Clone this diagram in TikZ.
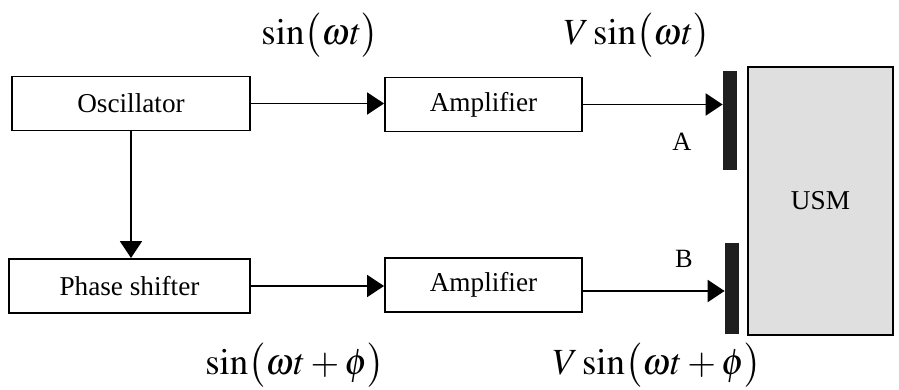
\documentclass[tikz,border=0pt]{standalone}
\usepackage{mathptmx}
\usepackage[no-math]{fontspec}
\setmainfont{Liberation Serif}
\usetikzlibrary{arrows.meta}
\definecolor{usmgray}{HTML}{DFDFDF}

\tikzset{
  block/.style={draw, line width=1.1pt, minimum width=#1, minimum height=1.08cm,
    inner sep=0pt, font=\fontsize{15.5}{17}\selectfont},
  electrode/.style={fill=black!88, draw=none, minimum width=0.28cm, inner sep=0pt},
  sig/.style={font=\fontsize{21}{24}\selectfont, inner sep=0pt},
  port/.style={font=\fontsize{15}{17}\selectfont, inner sep=0pt},
  feed/.style={line width=1.1pt, -{Triangle[length=0.34cm,width=0.44cm]}}
}

\begin{document}
\begin{tikzpicture}[x=0.02cm,y=0.02cm]
  \useasboundingbox (0,0) rectangle (899,389);
  % blocks
  \node[block=4.76cm] (osc) at (131,285.5) {Oscillator};
  \node[block=4.82cm] (shift) at (129.5,103) {Phase shifter};
  \node[block=3.94cm] (ampA) at (483.5,284.5) {Amplifier};
  \node[block=3.94cm] (ampB) at (483.5,104) {Amplifier};
  % motor and its electrodes
  \node[draw, line width=1.1pt, fill=usmgray, minimum width=2.9cm, minimum height=5.36cm,
    inner sep=0pt, font=\fontsize{15.5}{17}\selectfont] (usm) at (820.5,188) {USM};
  \node[electrode, minimum height=1.98cm] (elA) at (730,268.5) {};
  \node[electrode, minimum height=1.82cm] (elB) at (732,100.5) {};
  % connectors
  \draw[feed] (osc.east) -- (ampA.west |- osc.east);
  \draw[feed] (osc.south) -- (osc.south |- shift.north);
  \draw[feed] (shift.east) -- (ampB.west |- shift.east);
  \draw[feed] (ampA.east) -- (ampA.east -| elA.west);
  \draw[feed] ([yshift=-0.12cm]ampB.east) -- ([yshift=-0.12cm]ampB.east -| elB.west);
  % signals
  \node[sig] (sa) at (320,354) {$\sin\!\big(\omega t\big)$};
  \node[sig] (va) at (637,354) {$V\sin\!\big(\omega t\big)$};
  \node[sig] (sb) at (295,24) {$\sin\!\big(\omega t+\phi\big)$};
  \node[sig] (vb) at (657,24) {$V\sin\!\big(\omega t+\phi\big)$};
  \node[port] (pa) at (682,247) {A};
  \node[port] (pb) at (684,130) {B};
\end{tikzpicture}
\end{document}
